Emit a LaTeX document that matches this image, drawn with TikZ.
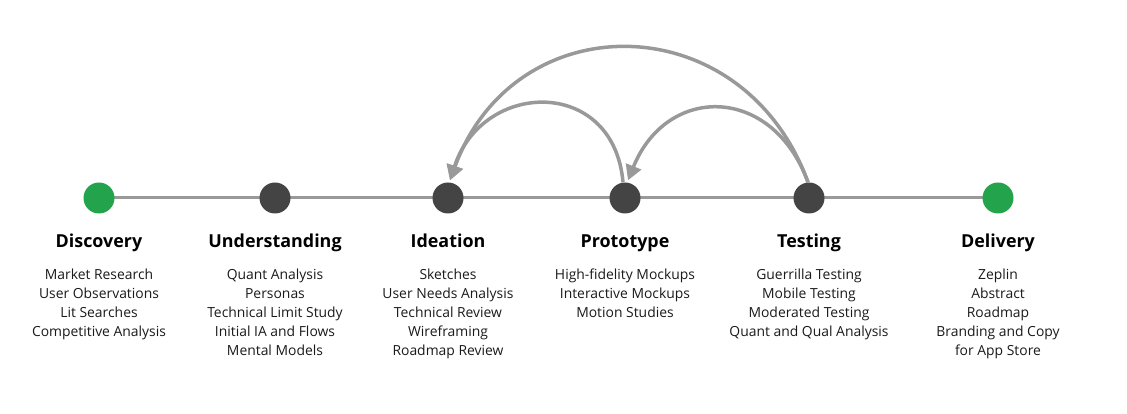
\documentclass[tikz,border=0pt]{standalone}
\usepackage{fontspec}
\setmainfont{Open Sans}
\usetikzlibrary{arrows.meta}
\definecolor{linegray}{HTML}{999999}
\definecolor{dotdark}{HTML}{444444}
\definecolor{dotgreen}{HTML}{23A34B}
\definecolor{bodytext}{HTML}{1A1A1A}
\tikzset{
  stage/.style={circle,minimum size=31pt,inner sep=0pt,fill=dotdark},
  endstage/.style={stage,fill=dotgreen},
  heading/.style={anchor=base,inner sep=0pt,font=\fontsize{17.9}{21}\bfseries\selectfont},
  items/.style={anchor=north,inner sep=0pt,align=center,text=bodytext,font=\fontsize{13.9}{19}\selectfont},
  loopback/.style={draw=linegray,line width=3.5pt,-{Triangle[length=15pt,width=16pt]}},
}
\begin{document}
\begin{tikzpicture}[x=1pt,y=1pt]
\useasboundingbox (0,0) rectangle (1127,414);
% stage positions (y = 414 - 198)
\coordinate (pd) at (99,216);
\coordinate (pu) at (275,216);
\coordinate (pi) at (448,216);
\coordinate (pp) at (625,216);
\coordinate (pt) at (809,216);
\coordinate (pdl) at (998,216);
\draw[linegray,line width=3pt] (pd) -- (pdl);
\node[endstage] (disc) at (pd) {};
\node[stage] (und) at (pu) {};
\node[stage] (idea) at (pi) {};
\node[stage] (proto) at (pp) {};
\node[stage] (test) at (pt) {};
\node[endstage] (deliv) at (pdl) {};
% loop-back arrows
\draw[loopback] ([xshift=-1pt]test.north) to[out=110,in=70,distance=189pt] ([xshift=2pt,yshift=2pt]idea.north);
\draw[loopback] ([xshift=-2pt]proto.north) to[out=95,in=72,distance=106pt] ([xshift=2pt,yshift=2pt]idea.north);
\draw[loopback] ([xshift=-1pt]test.north) to[out=110,in=68,distance=104pt] ([xshift=3pt,yshift=2pt]proto.north);
% headings
\node[heading] (h1) at (99,166) {Discovery};
\node[heading] (h2) at (275,166) {Understanding};
\node[heading] (h3) at (448,166) {Ideation};
\node[heading] (h4) at (625,166) {Prototype};
\node[heading] (h5) at (809,166) {Testing};
\node[heading] (h6) at (998,166) {Delivery};
% item lists
\node[items] (l1) at (99,145) {Market Research\\User Observations\\Lit Searches\\Competitive Analysis};
\node[items] (l2) at (275,145) {Quant Analysis\\Personas\\Technical Limit Study\\Initial IA and Flows\\Mental Models};
\node[items] (l3) at (448,145) {Sketches\\User Needs Analysis\\Technical Review\\Wireframing\\Roadmap Review};
\node[items] (l4) at (625,145) {High-fidelity Mockups\\Interactive Mockups\\Motion Studies};
\node[items] (l5) at (809,145) {Guerrilla Testing\\Mobile Testing\\Moderated Testing\\Quant and Qual Analysis};
\node[items] (l6) at (998,145) {Zeplin\\Abstract\\Roadmap\\Branding and Copy\\for App Store};
\end{tikzpicture}
\end{document}
